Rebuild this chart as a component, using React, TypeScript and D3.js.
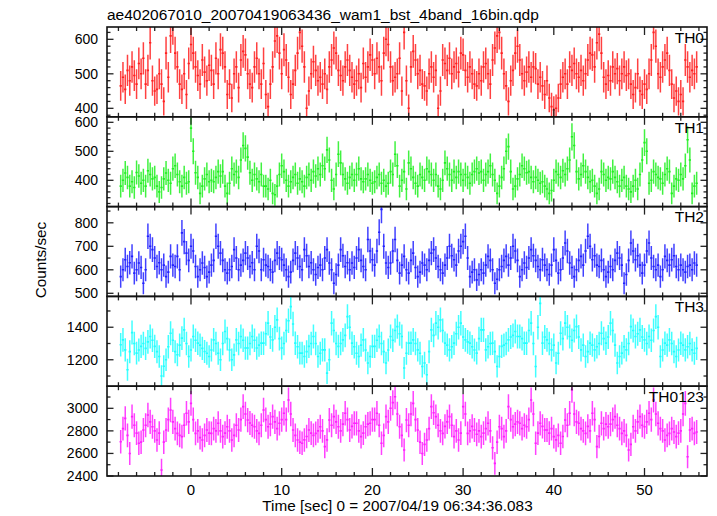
import React from "react";
import * as d3 from "d3";

const TITLE = "ae402067010_20070419063436_wam1_bst_4band_16bin.qdp";
const X_LABEL = "Time [sec] 0 = 2007/04/19 06:34:36.083";
const Y_LABEL = "Counts/sec";
const BAND_NAMES = ["TH0", "TH1", "TH2", "TH3", "TH0123"];
const T_START = -7.75; // centre of first bin (s)
const BIN = 0.25; // bin width (s)
const X_TICK_LABELS = [0, 10, 20, 30, 40, 50];

const TH0 = [
  465, 490, 455, 510, 480, 520, 495, 470,
  530, 500, 545, 470, 510, 590, 480, 450,
  455, 500, 470, 420, 560, 490, 610, 635,
  560, 520, 470, 455, 500, 440, 530, 585,
  560, 520, 495, 470, 540, 505, 480, 525,
  510, 470, 545, 500, 570, 560, 520, 440,
  470, 430, 500, 520, 460, 540, 565, 555,
  500, 470, 460, 520, 545, 500, 470, 530,
  440, 405, 470, 520, 595, 610, 560, 500,
  570, 540, 490, 440, 470, 510, 560, 620,
  580, 520, 400, 450, 500, 535, 510, 480,
  490, 470, 500, 455, 520, 540, 575, 560,
  510, 495, 480, 520, 540, 510, 490, 470,
  480, 500, 460, 530, 490, 520, 555, 540,
  500, 545, 520, 480, 560, 600, 585, 520,
  480, 490, 500, 545, 450, 620, 480, 400,
  520, 565, 540, 500, 510, 470, 465, 450,
  500, 520, 490, 510, 400, 450, 540, 530,
  510, 545, 500, 520, 530, 505, 560, 555,
  510, 490, 520, 500, 470, 465, 500, 480,
  520, 530, 500, 470, 540, 575, 610, 620,
  560, 500, 465, 420, 480, 510, 560, 580,
  540, 500, 480, 505, 520, 490, 520, 515,
  470, 490, 465, 440, 480, 430, 405, 395,
  400, 430, 470, 490, 500, 470, 520, 510,
  530, 500, 490, 510, 480, 500, 540, 560,
  555, 520, 590, 615, 560, 490, 470, 495,
  480, 520, 500, 515, 480, 500, 520, 495,
  500, 470, 440, 460, 500, 450, 440, 470,
  455, 500, 540, 620, 580, 500, 490, 520,
  540, 560, 510, 470, 430, 450, 420, 440,
  420, 540, 520, 490, 510, 500, 520,
];

const TH1 = [
  380, 400, 425, 410, 380, 395, 375, 427,
  415, 390, 400, 380, 433, 420, 405, 410,
  380, 360, 375, 405, 425, 400, 390, 440,
  450, 420, 395, 380, 410, 390, 395, 580,
  500, 426, 410, 355, 380, 405, 420, 395,
  400, 395, 410, 430, 415, 430, 380, 355,
  390, 440, 420, 430, 410, 470, 520, 510,
  480, 426, 400, 420, 405, 395, 420, 380,
  380, 370, 400, 355, 350, 380, 420, 450,
  430, 400, 380, 395, 410, 420, 390, 405,
  395, 380, 410, 420, 400, 430, 415, 440,
  420, 450, 440, 505, 470, 400, 370, 420,
  490, 460, 420, 405, 390, 410, 420, 400,
  420, 440, 405, 395, 405, 420, 400, 390,
  395, 410, 420, 390, 400, 380, 390, 430,
  420, 490, 450, 380, 400, 430, 370, 460,
  440, 410, 390, 380, 420, 410, 400, 440,
  430, 420, 400, 420, 380, 370, 400, 460,
  440, 420, 400, 430, 410, 430, 420, 400,
  420, 410, 390, 420, 430, 440, 425, 430,
  400, 420, 430, 450, 420, 400, 355, 380,
  410, 440, 500, 516, 430, 370, 380, 405,
  420, 450, 440, 426, 430, 410, 395, 410,
  400, 390, 395, 380, 370, 355, 365, 400,
  430, 420, 410, 433, 420, 440, 470, 550,
  520, 430, 405, 420, 450, 430, 410, 395,
  400, 380, 355, 370, 430, 420, 400, 410,
  405, 430, 410, 395, 380, 400, 410, 380,
  370, 360, 380, 400, 370, 420, 470, 530,
  500, 390, 400, 430, 420, 410, 405, 390,
  420, 440, 430, 355, 380, 405, 400, 420,
  405, 450, 540, 470, 355, 380, 390,
];

const TH2 = [
  571, 600, 643, 614, 630, 657, 586, 600,
  629, 610, 543, 600, 743, 700, 686, 650,
  614, 630, 600, 620, 571, 590, 657, 620,
  614, 657, 600, 757, 720, 671, 640, 700,
  680, 614, 571, 600, 629, 610, 571, 590,
  620, 640, 743, 700, 671, 640, 600, 586,
  600, 614, 686, 650, 600, 620, 640, 671,
  650, 614, 630, 600, 700, 680, 600, 643,
  620, 614, 600, 590, 640, 671, 650, 643,
  620, 600, 571, 590, 640, 671, 650, 614,
  600, 686, 660, 614, 630, 600, 580, 610,
  620, 600, 650, 686, 629, 600, 543, 580,
  620, 686, 660, 614, 630, 600, 629, 610,
  650, 686, 640, 614, 600, 729, 680, 643,
  620, 680, 760, 857, 700, 629, 610, 629,
  680, 729, 640, 586, 620, 657, 600, 586,
  640, 671, 610, 571, 590, 629, 620, 600,
  640, 671, 686, 650, 614, 600, 586, 620,
  650, 700, 660, 643, 620, 680, 700, 720,
  743, 650, 571, 590, 600, 557, 580, 600,
  586, 620, 657, 640, 600, 543, 560, 600,
  614, 640, 657, 620, 650, 700, 680, 640,
  571, 600, 629, 610, 650, 686, 660, 640,
  614, 600, 643, 620, 600, 580, 620, 686,
  640, 586, 600, 650, 714, 680, 629, 610,
  571, 600, 640, 657, 620, 680, 743, 700,
  643, 660, 620, 614, 640, 600, 571, 590,
  614, 600, 640, 671, 650, 620, 543, 580,
  640, 714, 680, 643, 660, 620, 586, 620,
  680, 714, 650, 614, 600, 620, 571, 600,
  657, 640, 620, 643, 660, 614, 600, 620,
  600, 590, 614, 620, 600, 629, 620,
];

const TH3 = [
  1292, 1322, 1261, 1139, 1250, 1367, 1300, 1241,
  1260, 1282, 1300, 1270, 1310, 1343, 1320, 1282,
  1250, 1220, 1100, 1160, 1200, 1280, 1363, 1320,
  1250, 1231, 1290, 1333, 1384, 1300, 1220, 1260,
  1343, 1320, 1302, 1290, 1270, 1251, 1240, 1220,
  1260, 1322, 1300, 1240, 1200, 1300, 1374, 1330,
  1260, 1200, 1230, 1322, 1300, 1343, 1320, 1272,
  1272, 1300, 1343, 1320, 1272, 1290, 1302, 1302,
  1360, 1425, 1340, 1322, 1400, 1445, 1330, 1272,
  1300, 1380, 1440, 1527, 1420, 1302, 1280, 1241,
  1241, 1220, 1250, 1282, 1300, 1343, 1300, 1220,
  1240, 1261, 1261, 1118, 1200, 1425, 1380, 1300,
  1282, 1300, 1322, 1350, 1465, 1400, 1302, 1280,
  1240, 1220, 1290, 1322, 1260, 1180, 1220, 1282,
  1282, 1320, 1343, 1300, 1250, 1180, 1260, 1343,
  1320, 1380, 1404, 1360, 1343, 1149, 1240, 1302,
  1302, 1322, 1300, 1261, 1240, 1159, 1180, 1108,
  1250, 1384, 1350, 1425, 1400, 1445, 1380, 1302,
  1290, 1261, 1280, 1302, 1360, 1400, 1425, 1340,
  1322, 1310, 1302, 1280, 1260, 1241, 1330, 1384,
  1384, 1261, 1280, 1300, 1302, 1250, 1159, 1220,
  1282, 1290, 1300, 1322, 1340, 1350, 1374, 1343,
  1343, 1330, 1302, 1302, 1380, 1425, 1300, 1159,
  1400, 1547, 1302, 1340, 1322, 1300, 1261, 1290,
  1180, 1240, 1363, 1330, 1425, 1400, 1343, 1320,
  1380, 1404, 1340, 1261, 1290, 1220, 1250, 1302,
  1290, 1261, 1280, 1300, 1363, 1330, 1302, 1340,
  1425, 1380, 1290, 1180, 1220, 1241, 1280, 1261,
  1300, 1404, 1380, 1343, 1360, 1384, 1340, 1322,
  1300, 1343, 1320, 1380, 1465, 1400, 1220, 1260,
  1302, 1290, 1322, 1300, 1250, 1220, 1260, 1302,
  1290, 1261, 1280, 1300, 1261, 1240, 1270,
];

const TH0123 = [
  2704, 2820, 2911, 2760, 2600, 2926, 2850, 2780,
  2690, 2700, 2808, 2850, 2941, 2880, 2837, 2800,
  2719, 2780, 2453, 2700, 2808, 2900, 2985, 2880,
  2820, 2778, 2760, 2749, 2850, 2956, 2880, 3044,
  2900, 2778, 2800, 2740, 2719, 2760, 2808, 2780,
  2778, 2820, 2800, 2867, 2800, 2749, 2780, 2837,
  2800, 2719, 2760, 2850, 2808, 2900, 3015, 2950,
  2896, 2870, 2850, 2837, 2800, 2778, 2850, 2985,
  2900, 2837, 2860, 2926, 2880, 2820, 2867, 2900,
  2956, 2900, 3074, 2950, 2808, 2760, 2719, 2700,
  2690, 2720, 2750, 2808, 2780, 2760, 2778, 2800,
  2837, 2800, 2660, 2720, 2896, 2850, 2926, 2880,
  2837, 2800, 2860, 2956, 2900, 2808, 2840, 2867,
  2867, 2800, 2749, 2780, 2837, 2860, 2867, 2900,
  2900, 2956, 2850, 2690, 2760, 2926, 2880, 3000,
  3050, 3103, 2950, 2837, 2760, 2630, 2896, 2850,
  2950, 3044, 2900, 2808, 2700, 2600, 2680, 2719,
  2820, 3015, 2960, 2926, 2850, 2800, 2778, 2840,
  2880, 2926, 2850, 2749, 2800, 2719, 2780, 3015,
  2950, 2778, 2800, 2840, 2808, 2770, 2800, 2749,
  2780, 2820, 2867, 2800, 2650, 2512, 2700, 2837,
  2820, 2749, 2800, 3015, 2900, 2837, 2860, 2880,
  2867, 2820, 2850, 2837, 2900, 3074, 2950, 2690,
  2780, 2867, 2840, 2808, 2808, 2780, 2820, 2749,
  2720, 2760, 2690, 2750, 2896, 2850, 2956, 3162,
  2950, 2880, 2867, 2820, 2800, 2778, 2840, 2800,
  2956, 2900, 2660, 2750, 2867, 2820, 2860, 2837,
  2860, 2900, 2926, 2850, 2820, 2778, 2800, 2760,
  2630, 2680, 2837, 2800, 2880, 2926, 2850, 2837,
  2880, 2956, 2900, 3074, 2950, 2867, 2820, 2800,
  2719, 2760, 2778, 2820, 2790, 2749, 2780, 2800,
  2950, 3044, 2571, 2808, 2820, 2778, 2790,
];

const SERIES = [TH0, TH1, TH2, TH3, TH0123];

// layout / style (not data)
const W = 717;
const H = 516;
const LEFT = 107;
const RIGHT = 707;
const TOP = 27;
const BOTTOM = 476;
const FONT = "'Liberation Sans', Arial, Helvetica, sans-serif";
const COLORS = ["#ff2020", "#20f020", "#2020ff", "#20ffff", "#ff20ff"];
const Y_DOMAINS: [number, number][] = [
  [375.4, 635.7],
  [309.3, 619],
  [486.8, 869],
  [1037.4, 1589.6],
  [2400, 3196],
];
const Y_MAJOR = [100, 100, 100, 200, 200];
const Y_MINOR = [20, 20, 50, 100, 100];
const X_DOMAIN: [number, number] = [-9.26, 56.89];

function ticksBetween(lo: number, hi: number, step: number) {
  const out: number[] = [];
  const start = Math.ceil(lo / step - 1e-9) * step;
  for (let v = start; v <= hi + 1e-9; v += step) out.push(Math.round(v * 1000) / 1000);
  return out;
}

export default function App() {
  const x = d3.scaleLinear().domain(X_DOMAIN).range([LEFT, RIGHT]);
  const ph = (BOTTOM - TOP) / 5;
  const xMinor = ticksBetween(X_DOMAIN[0], X_DOMAIN[1], 2);
  const xMajor = ticksBetween(X_DOMAIN[0], X_DOMAIN[1], 10);

  return (
    <svg
      width={W}
      height={H}
      style={{ position: "absolute", left: 0, top: 0, background: "#fff" }}
      fontFamily={FONT}
    >
      <rect x={0} y={0} width={W} height={H} fill="#fff" />
      <text x={LEFT} y={19.5} fontSize={15.5} fill="#000">
        {TITLE}
      </text>
      {SERIES.map((vals, p) => {
        const y0 = TOP + p * ph;
        const y1 = y0 + ph;
        const y = d3.scaleLinear().domain(Y_DOMAINS[p]).range([y1, y0]);
        const clipId = `clip${p}`;
        const half = BIN / 2;
        let hPath = "";
        let ePath = "";
        vals.forEach((v, i) => {
          const t = T_START + i * BIN;
          const err = 2 * Math.sqrt(v); // Poisson error for a 0.25 s bin
          hPath += `M${x(t - half)},${y(v)}H${x(t + half)}`;
          ePath += `M${x(t)},${y(v - err)}V${y(v + err)}`;
        });
        const major = ticksBetween(Y_DOMAINS[p][0], Y_DOMAINS[p][1], Y_MAJOR[p]);
        const minor = ticksBetween(Y_DOMAINS[p][0], Y_DOMAINS[p][1], Y_MINOR[p]);
        return (
          <g key={p}>
            <clipPath id={clipId}>
              <rect x={LEFT} y={y0} width={RIGHT - LEFT} height={ph} />
            </clipPath>
            <g clipPath={`url(#${clipId})`}>
              <path d={ePath} stroke={COLORS[p]} strokeWidth={1.5} fill="none" strokeOpacity={0.85} />
              <path d={hPath} stroke={COLORS[p]} strokeWidth={1.6} fill="none" />
            </g>
            {minor.map((v) => {
              const isMaj = major.some((m) => Math.abs(m - v) < 1e-6);
              const len = isMaj ? 6.5 : 3.5;
              return (
                <g key={`y${v}`} stroke="#222" strokeWidth={1.3}>
                  <line x1={LEFT} x2={LEFT + len} y1={y(v)} y2={y(v)} />
                  <line x1={RIGHT} x2={RIGHT - len} y1={y(v)} y2={y(v)} />
                </g>
              );
            })}
            {major.map((v) => (
              <text
                key={`yl${v}`}
                x={98}
                y={y(v) + 4.8}
                textAnchor="end"
                fontSize={14}
                fill="#000"
              >
                {v}
              </text>
            ))}
            {xMinor.map((t) => {
              const isMaj = xMajor.some((m) => Math.abs(m - t) < 1e-6);
              const len = isMaj ? 8 : 4;
              return (
                <g key={`x${t}`} stroke="#222" strokeWidth={1.3}>
                  <line x1={x(t)} x2={x(t)} y1={y1} y2={y1 - len} />
                  <line x1={x(t)} x2={x(t)} y1={y0} y2={y0 + len} />
                </g>
              );
            })}
            <rect
              x={LEFT}
              y={y0}
              width={RIGHT - LEFT}
              height={ph}
              fill="none"
              stroke="#111"
              strokeWidth={1.6}
            />
            <text x={RIGHT - 3} y={y0 + 15.8} textAnchor="end" fontSize={15.5} fill="#000">
              {BAND_NAMES[p]}
            </text>
          </g>
        );
      })}
      {X_TICK_LABELS.map((t) => (
        <text key={`xl${t}`} x={x(t)} y={495} textAnchor="middle" fontSize={15} fill="#000">
          {t}
        </text>
      ))}
      <text x={397.5} y={510.5} textAnchor="middle" fontSize={15.3} fill="#000">
        {X_LABEL}
      </text>
      <text
        transform={`translate(46,260) rotate(-90)`}
        textAnchor="middle"
        fontSize={15.3}
        fill="#000"
      >
        {Y_LABEL}
      </text>
    </svg>
  );
}
